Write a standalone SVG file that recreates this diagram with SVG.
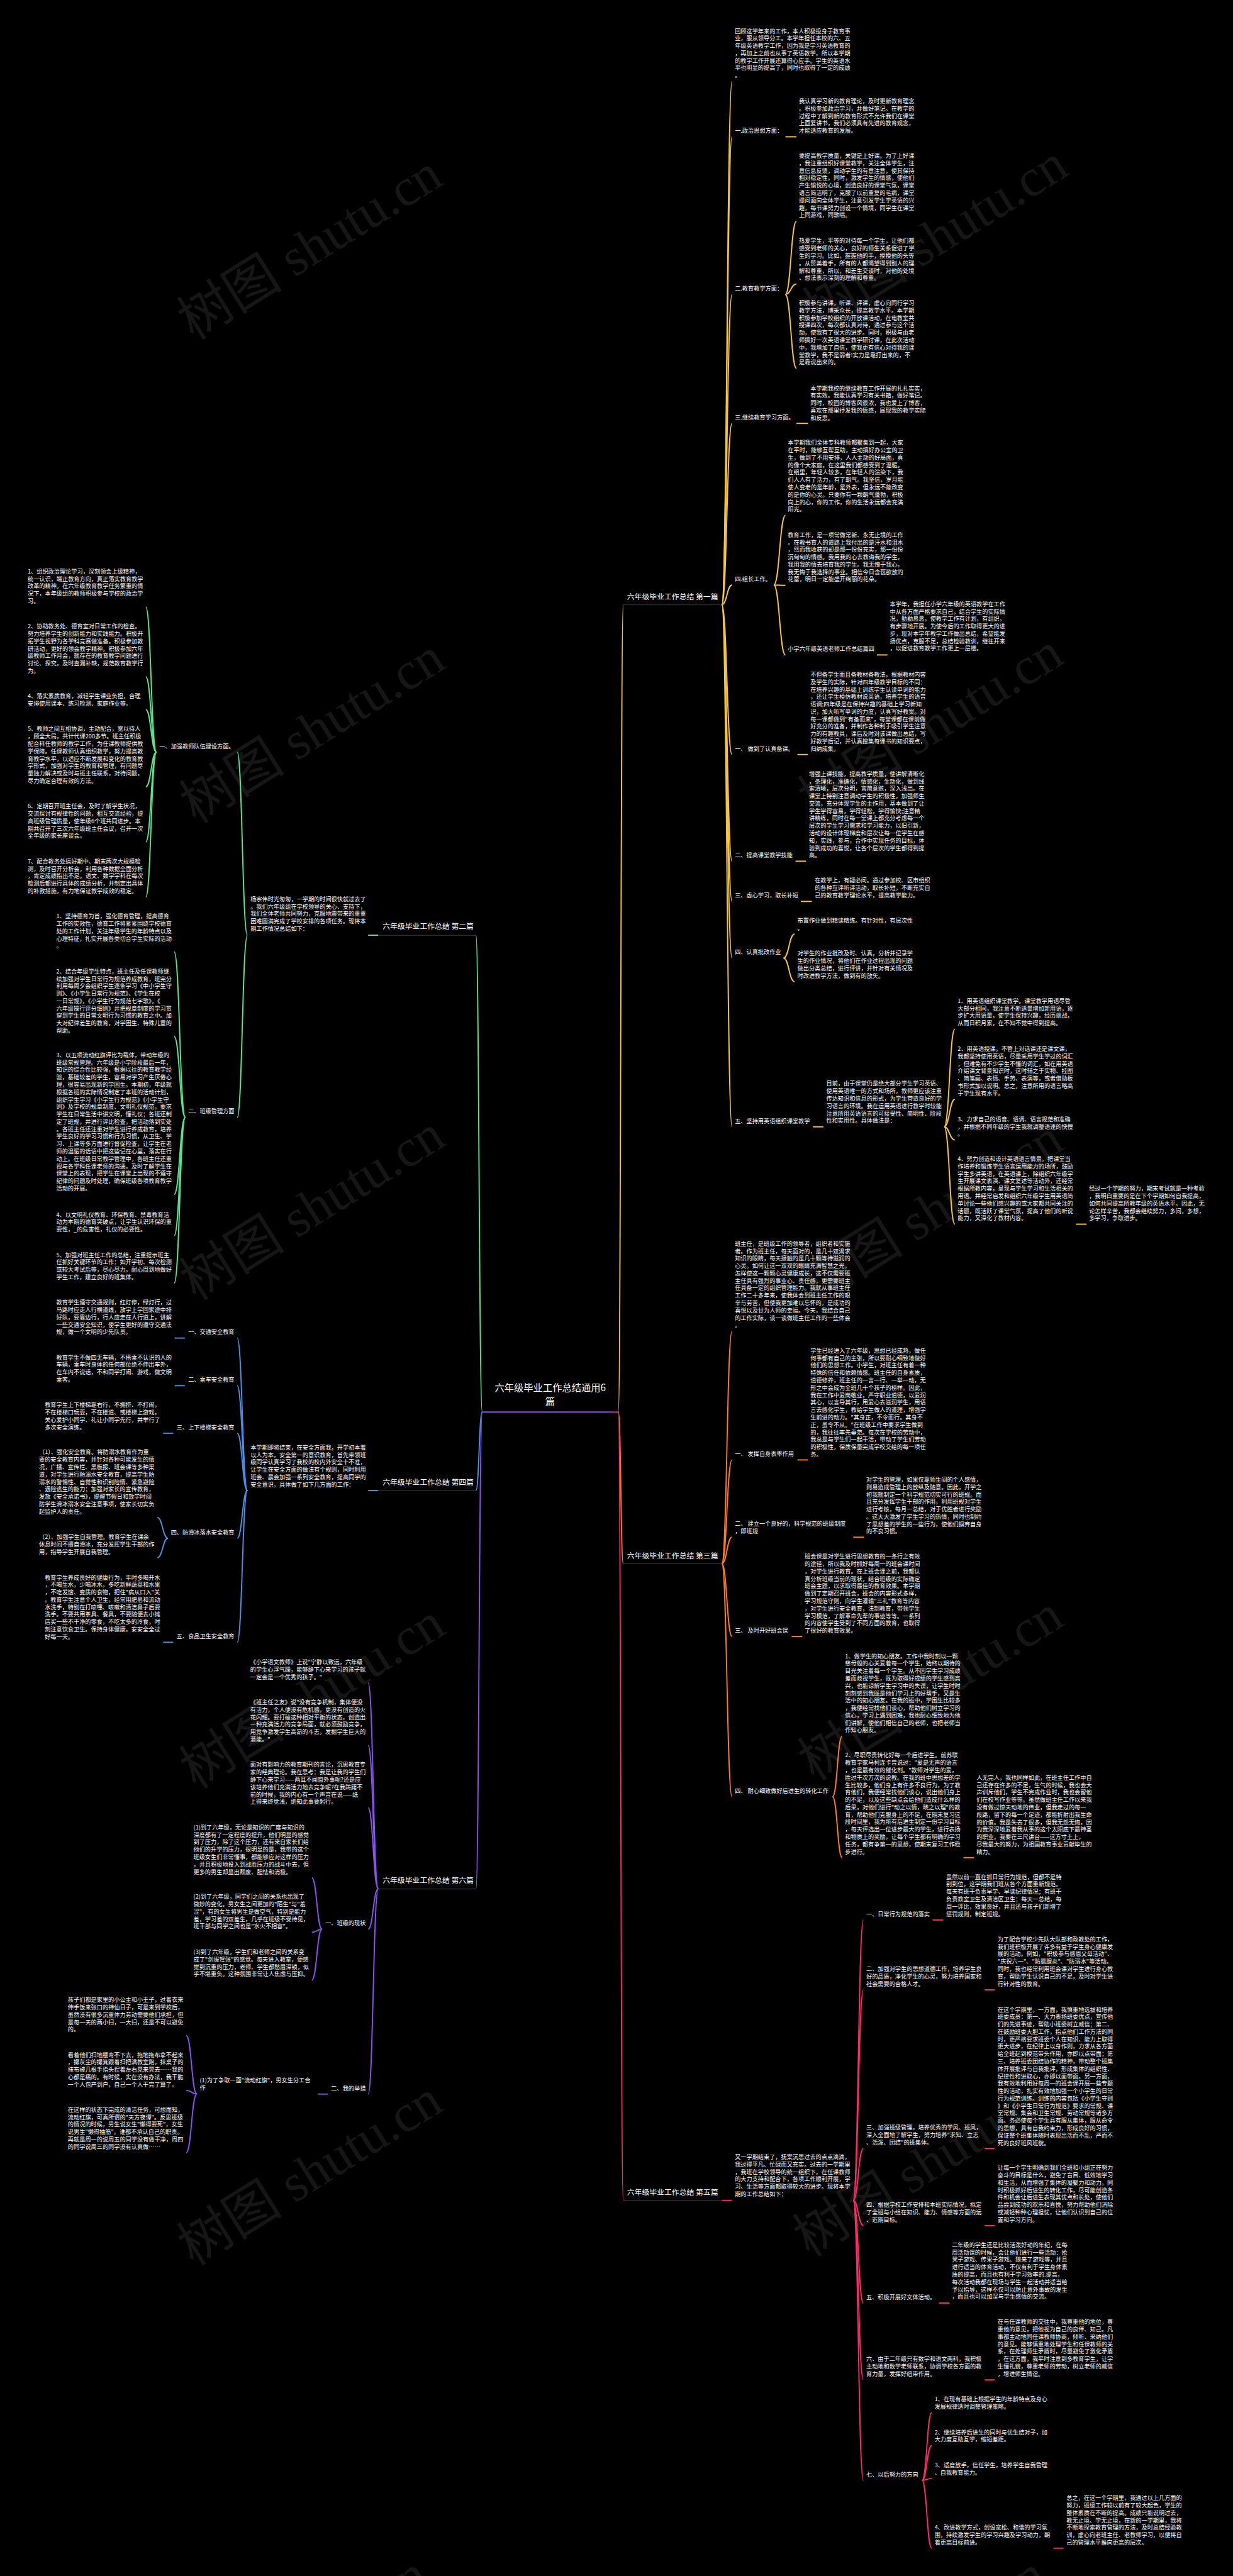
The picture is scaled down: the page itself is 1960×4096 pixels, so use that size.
<svg xmlns="http://www.w3.org/2000/svg" width="1960" height="4096" viewBox="0 0 1960 4096">
<style>
.t{font-family:"Noto Sans CJK SC","Noto Sans",sans-serif;font-size:12px;fill:#fff}
.h{font-size:15.5px}
.c{font-size:20px;text-anchor:middle}
.e{text-anchor:end}
.w{font-family:"Liberation Serif","Noto Sans CJK SC",serif;font-size:110px;fill:#161616;text-anchor:middle}
.k path{fill:none;stroke-width:2.5}
.Y path{stroke:#F5C443}.O path{stroke:#FF7B22}.P path{stroke:#FF2A6D}
.G path{stroke:#5BE48F}.B path{stroke:#4C8FE8}.V path{stroke:#8C52F0}
.u path{fill:none;stroke:#2a2a2a;stroke-width:2}
</style>
<rect width="1960" height="4096" fill="#000"/>
<g transform="scale(0.765)">
<g id="watermark">
<text class="w" x="1945" y="530" transform="rotate(-32 1945 495)">树图 shutu.cn</text>
<text class="w" x="1935" y="1545" transform="rotate(-32 1935 1510)">树图 shutu.cn</text>
<text class="w" x="1935" y="2555" transform="rotate(-32 1935 2520)">树图 shutu.cn</text>
<text class="w" x="1935" y="3545" transform="rotate(-32 1935 3510)">树图 shutu.cn</text>
<text class="w" x="1925" y="4535" transform="rotate(-32 1925 4500)">树图 shutu.cn</text>
<text class="w" x="1900" y="5540" transform="rotate(-32 1900 5505)">树图 shutu.cn</text>
<text class="w" x="645" y="550" transform="rotate(-32 645 515)">树图 shutu.cn</text>
<text class="w" x="650" y="1555" transform="rotate(-32 650 1520)">树图 shutu.cn</text>
<text class="w" x="650" y="2547" transform="rotate(-32 650 2512)">树图 shutu.cn</text>
<text class="w" x="650" y="3562" transform="rotate(-32 650 3527)">树图 shutu.cn</text>
<text class="w" x="645" y="4553" transform="rotate(-32 645 4518)">树图 shutu.cn</text>
<text class="w" x="615" y="5540" transform="rotate(-32 615 5505)">树图 shutu.cn</text>
</g>
<g id="connectors" class="k">
<g class="u">
<path d="M1295 1257H1500M1295 3250H1500M1295 4573.5H1500M786 1944H989M786 3098H989M786 3926H989"/>
</g>
<g class="V"><path d="M1002 2935H1272"/></g>
<g class="P"><path d="M1272 2935H1285"/></g>
<g class="Y">
<path d="M1285 2935C1290 2935 1290 1257 1295 1257"/>
<path d="M1500 1257C1510.5 1257 1510.5 169.2 1521 169.2"/>
<path d="M1500 1257C1510.5 1257 1510.5 284.3 1521 284.3"/>
<path d="M1500 1257C1510.5 1257 1510.5 612 1521 612"/>
<path d="M1500 1257C1510.5 1257 1510.5 880 1521 880"/>
<path d="M1500 1257C1510.5 1257 1510.5 1216 1521 1216"/>
<path d="M1500 1257C1510.5 1257 1510.5 1568.3 1521 1568.3"/>
<path d="M1500 1257C1510.5 1257 1510.5 1790 1521 1790"/>
<path d="M1500 1257C1510.5 1257 1510.5 1873.6 1521 1873.6"/>
<path d="M1500 1257C1510.5 1257 1510.5 1991.3 1521 1991.3"/>
<path d="M1500 1257C1510.5 1257 1510.5 2342.1 1521 2342.1"/>
<path d="M1632 284.3H1655"/>
<path d="M1632 612C1643.5 612 1643.5 459.6 1655 459.6"/>
<path d="M1632 612C1643.5 612 1643.5 590.2 1655 590.2"/>
<path d="M1632 612C1643.5 612 1643.5 765.5 1655 765.5"/>
<path d="M1655 880H1679"/>
<path d="M1608 1216C1620 1216 1620 1071.3 1632 1071.3"/>
<path d="M1608 1216C1620 1216 1620 1216.6 1632 1216.6"/>
<path d="M1608 1216C1620 1216 1620 1361.3 1632 1361.3"/>
<path d="M1822 1361.3H1844"/>
<path d="M1657 1568.3H1679"/>
<path d="M1653 1790H1675"/>
<path d="M1664 1873.6H1687"/>
<path d="M1628 1991.3C1639.5 1991.3 1639.5 1941.5 1651 1941.5"/>
<path d="M1628 1991.3C1639.5 1991.3 1639.5 2040.4 1651 2040.4"/>
<path d="M1689 2342.1H1711"/>
<path d="M1962 2342C1973 2342 1973 2139.2 1984 2139.2"/>
<path d="M1962 2342C1973 2342 1973 2285 1984 2285"/>
<path d="M1962 2342C1973 2342 1973 2369.4 1984 2369.4"/>
<path d="M1962 2342C1973 2342 1973 2544.5 1984 2544.5"/>
<path d="M2236 2544.5H2258"/>
</g>
<g class="O">
<path d="M1285 2935C1290 2935 1290 3250 1295 3250"/>
<path d="M1500 3250C1510.5 3250 1510.5 2766.8 1521 2766.8"/>
<path d="M1500 3250C1510.5 3250 1510.5 3034.5 1521 3034.5"/>
<path d="M1500 3250C1510.5 3250 1510.5 3195.1 1521 3195.1"/>
<path d="M1500 3250C1510.5 3250 1510.5 3401.4 1521 3401.4"/>
<path d="M1500 3250C1510.5 3250 1510.5 3734.6 1521 3734.6"/>
<path d="M1657 3034.5H1679"/>
<path d="M1773 3195.1H1795"/>
<path d="M1645 3401.4H1667"/>
<path d="M1730 3734.6C1740 3734.6 1740 3608.7 1750 3608.7"/>
<path d="M1730 3734.6C1740 3734.6 1740 3861.1 1750 3861.1"/>
<path d="M2002 3861.1H2024"/>
</g>
<g class="P">
<path d="M1285 2935C1290 2935 1290 4573.5 1295 4573.5"/>
<path d="M1500 4573.5H1521"/>
<path d="M1773 4573.5C1783.5 4573.5 1783.5 3990.7 1794 3990.7"/>
<path d="M1773 4573.5C1783.5 4573.5 1783.5 4135.8 1794 4135.8"/>
<path d="M1773 4573.5C1783.5 4573.5 1783.5 4465.5 1794 4465.5"/>
<path d="M1773 4573.5C1783.5 4573.5 1783.5 4625.9 1794 4625.9"/>
<path d="M1773 4573.5C1783.5 4573.5 1783.5 4786.9 1794 4786.9"/>
<path d="M1773 4573.5C1783.5 4573.5 1783.5 4946.6 1794 4946.6"/>
<path d="M1773 4573.5C1783.5 4573.5 1783.5 5155.5 1794 5155.5"/>
<path d="M1938 3990.7H1960"/>
<path d="M2046 4135.8H2067"/>
<path d="M2046 4465.5H2067"/>
<path d="M2046 4625.9H2067"/>
<path d="M1951 4786.9H1973"/>
<path d="M2046 4946.6H2067"/>
<path d="M1916 5155.5C1926 5155.5 1926 5014.7 1936 5014.7"/>
<path d="M1916 5155.5C1926 5155.5 1926 5083.1 1936 5083.1"/>
<path d="M1916 5155.5C1926 5155.5 1926 5151.5 1936 5151.5"/>
<path d="M1916 5155.5C1926 5155.5 1926 5296.4 1936 5296.4"/>
<path d="M2189 5296.4H2210"/>
</g>
<g class="G">
<path d="M1002 2935C995.5 2935 995.5 1944 989 1944"/>
<path d="M786 1944H765"/>
<path d="M514 1944C503.5 1944 503.5 1563.3 493 1563.3"/>
<path d="M514 1944C503.5 1944 503.5 2322.4 493 2322.4"/>
<path d="M325 1563.3C314 1563.3 314 1261.6 303 1261.6"/>
<path d="M325 1563.3C314 1563.3 314 1406.7 303 1406.7"/>
<path d="M325 1563.3C314 1563.3 314 1474.9 303 1474.9"/>
<path d="M325 1563.3C314 1563.3 314 1635.4 303 1635.4"/>
<path d="M325 1563.3C314 1563.3 314 1749.8 303 1749.8"/>
<path d="M325 1563.3C314 1563.3 314 1864.2 303 1864.2"/>
<path d="M385 2322.4C373.5 2322.4 373.5 1978.5 362 1978.5"/>
<path d="M385 2322.4C373.5 2322.4 373.5 2154.5 362 2154.5"/>
<path d="M385 2322.4C373.5 2322.4 373.5 2482.5 362 2482.5"/>
<path d="M385 2322.4C373.5 2322.4 373.5 2567.9 362 2567.9"/>
<path d="M385 2322.4C373.5 2322.4 373.5 2666.8 362 2666.8"/>
</g>
<g class="B">
<path d="M1002 2935C995.5 2935 995.5 3098 989 3098"/>
<path d="M786 3098H765"/>
<path d="M514 3098C503.5 3098 503.5 2781.2 493 2781.2"/>
<path d="M514 3098C503.5 3098 503.5 2880.1 493 2880.1"/>
<path d="M514 3098C503.5 3098 503.5 2979 493 2979"/>
<path d="M514 3098C503.5 3098 503.5 3197.2 493 3197.2"/>
<path d="M514 3098C503.5 3098 503.5 3413.5 493 3413.5"/>
<path d="M384 2781.2H363"/>
<path d="M384 2880.1H363"/>
<path d="M360 2979H339"/>
<path d="M349 3197.2C338 3197.2 338 3154.1 327 3154.1"/>
<path d="M349 3197.2C338 3197.2 338 3237.8 327 3237.8"/>
<path d="M360 3413.5H339"/>
</g>
<g class="V">
<path d="M1002 2935C995.5 2935 995.5 3926 989 3926"/>
<path d="M786 3926C775.5 3926 775.5 3497.8 765 3497.8"/>
<path d="M786 3926C775.5 3926 775.5 3627.7 765 3627.7"/>
<path d="M786 3926C775.5 3926 775.5 3757.6 765 3757.6"/>
<path d="M786 3926C775.5 3926 775.5 4009.9 765 4009.9"/>
<path d="M786 3926C775.5 3926 775.5 4352.6 765 4352.6"/>
<path d="M669 4009.9C658.5 4009.9 658.5 3903 648 3903"/>
<path d="M669 4009.9C658.5 4009.9 658.5 4016.4 648 4016.4"/>
<path d="M669 4009.9C658.5 4009.9 658.5 4115.8 648 4115.8"/>
<path d="M681 4352.6H660"/>
<path d="M409 4352.1C398 4352.1 398 4230.9 387 4230.9"/>
<path d="M409 4352.1C398 4352.1 398 4344.9 387 4344.9"/>
<path d="M409 4352.1C398 4352.1 398 4474.3 387 4474.3"/>
</g>
</g>
<g id="root"><text class="t c" x="1143.5" y="2891.7">六年级毕业工作总结通用6</text><text class="t c" x="1143" y="2919.7">篇</text></g>
<g id="p1"><text class="t h" x="1303" y="1245.5">六年级毕业工作总结 第一篇</text></g>
<g id="p3"><text class="t h" x="1303" y="3238.8">六年级毕业工作总结 第三篇</text></g>
<g id="p5"><text class="t h" x="1303" y="4562.2">六年级毕业工作总结 第五篇</text></g>
<g id="p2"><text class="t h" x="795" y="1931.2">六年级毕业工作总结 第二篇</text></g>
<g id="p4"><text class="t h" x="795" y="3086.5">六年级毕业工作总结 第四篇</text></g>
<g id="p6"><text class="t h" x="795" y="3913.8">六年级毕业工作总结 第六篇</text></g>
<g id="r0"><text class="t" transform="translate(1527 68.7)">回顾这学年来的工作，本人积极投身于教育事<tspan x="0" dy="15.4">业，服从领导分工。本学年担任本校的六、五</tspan><tspan x="0" dy="15.4">年级英语教学工作，因为我是学习英语教育的</tspan><tspan x="0" dy="15.4">，再加上之前也从事了英语教学，所以本学期</tspan><tspan x="0" dy="15.4">的教学工作开展还算得心应手。学生的英语水</tspan><tspan x="0" dy="15.4">平也明显的提高了，同时也取得了一定的成绩</tspan><tspan x="0" dy="15.4">。</tspan></text></g>
<g id="r1"><text class="t" x="1527" y="276.2">一.政治思想方面：</text></g>
<g id="r1c"><text class="t" transform="translate(1660 214.5)">我认真学习新的教育理论，及时更新教育理念<tspan x="0" dy="15.4">。积极参加政治学习，并做好笔记。在教学的</tspan><tspan x="0" dy="15.4">过程中了解到新的教育形式不允许我们在课堂</tspan><tspan x="0" dy="15.4">上面复讲书，我们必须具有先进的教育观念，</tspan><tspan x="0" dy="15.4">才能适应教育的发展。</tspan></text></g>
<g id="r2"><text class="t" x="1527" y="604">二.教育教学方面：</text></g>
<g id="r2c1"><text class="t" transform="translate(1660 328.3)">要提高教学质量，关键是上好课。为了上好课<tspan x="0" dy="15.4">，我注重组织好课堂教学，关注全体学生，注</tspan><tspan x="0" dy="15.4">意信息反馈，调动学生的有意注意，使其保持</tspan><tspan x="0" dy="15.4">相对稳定性。同时，激发学生的情感，使他们</tspan><tspan x="0" dy="15.4">产生愉悦的心境，创造良好的课堂气氛，课堂</tspan><tspan x="0" dy="15.4">语言简洁明了，克服了以前重复的毛病，课堂</tspan><tspan x="0" dy="15.4">提问面向全体学生，注意引发学生学英语的兴</tspan><tspan x="0" dy="15.4">趣，每节课努力创设一个情境，同学生在课堂</tspan><tspan x="0" dy="15.4">上同游戏，同歌唱。</tspan></text></g>
<g id="r2c2"><text class="t" transform="translate(1660 505.1)">热爱学生，平等的对待每一个学生，让他们都<tspan x="0" dy="15.4">感受到老师的关心，良好的师生关系促进了学</tspan><tspan x="0" dy="15.4">生的学习。比如，握握他的手，摸摸他的头等</tspan><tspan x="0" dy="15.4">。从赞美着手，所有的人都渴望得到别人的理</tspan><tspan x="0" dy="15.4">解和尊重，所以，和差生交谈时，对他的处境</tspan><tspan x="0" dy="15.4">、想法表示深刻的理解和尊重。</tspan></text></g>
<g id="r2c3"><text class="t" transform="translate(1660 634.1)">积极参与讲课，听课、评课，虚心向同行学习<tspan x="0" dy="15.4">教学方法，博采众长，提高教学水平。本学期</tspan><tspan x="0" dy="15.4">积极参加学校组织的开放课活动，在电教室共</tspan><tspan x="0" dy="15.4">授课四次，每次都认真对待，通过参与这个活</tspan><tspan x="0" dy="15.4">动，使我有了很大的进步。同时，积极与由老</tspan><tspan x="0" dy="15.4">师搞好一次英语课堂教学研讨课，在此次活动</tspan><tspan x="0" dy="15.4">中，我增加了自信，使我更有信心对待我的课</tspan><tspan x="0" dy="15.4">堂教学，我不是弱者!实力是靠打出来的，不</tspan><tspan x="0" dy="15.4">是靠说出来的。</tspan></text></g>
<g id="r3"><text class="t" x="1527" y="872">三.继续教育学习方面。</text></g>
<g id="r3c"><text class="t" transform="translate(1684 811.2)">本学期我校的继续教育工作开展的扎扎实实，<tspan x="0" dy="15.4">有实效。我能认真学习有关书籍，做好笔记。</tspan><tspan x="0" dy="15.4">同时，校园的博客风很浓，我也爱上了博客，</tspan><tspan x="0" dy="15.4">喜欢在那里抒发我的情感，展现我的教学实际</tspan><tspan x="0" dy="15.4">和反思。</tspan></text></g>
<g id="r4"><text class="t" x="1527" y="1208">四.组长工作。</text></g>
<g id="r4c1"><text class="t" transform="translate(1637 924.6)">本学期我们全体专科教师都聚集到一起，大家<tspan x="0" dy="15.4">在平时，能够互帮互助，主动搞好办公室的卫</tspan><tspan x="0" dy="15.4">生，做到了不用安排，人人主动的好局面，真</tspan><tspan x="0" dy="15.4">的像个大家庭，在这里我们都感受到了温暖。</tspan><tspan x="0" dy="15.4">在组里，年轻人较多，在年轻人的渲染下，我</tspan><tspan x="0" dy="15.4">们人人有了活力，有了朝气。我坚信，岁月能</tspan><tspan x="0" dy="15.4">使人变老的是年龄，是外表，但永远不能改变</tspan><tspan x="0" dy="15.4">的是你的心灵。只要你有一颗朝气蓬勃，积极</tspan><tspan x="0" dy="15.4">向上的心，你的工作，你的生活永远都会充满</tspan><tspan x="0" dy="15.4">阳光。</tspan></text></g>
<g id="r4c2"><text class="t" transform="translate(1637 1116.1)">教育工作，是一项常做常新、永无止境的工作<tspan x="0" dy="15.4">。在教书育人的道路上我付出的是汗水和泪水</tspan><tspan x="0" dy="15.4">，然而我收获的却是那一份份充实，那一份份</tspan><tspan x="0" dy="15.4">沉甸甸的情感。我用我的心去教诲我的学生，</tspan><tspan x="0" dy="15.4">我用我的情去培育我的学生。我无愧于我心，</tspan><tspan x="0" dy="15.4">我无悔于我选择的事业。相信今日含苞欲放的</tspan><tspan x="0" dy="15.4">花蕾，明日一定能盛开绚丽的花朵。</tspan></text></g>
<g id="r4c3"><text class="t" x="1637" y="1353.2">小学六年级英语老师工作总结篇四</text></g>
<g id="r4c3c"><text class="t" transform="translate(1849 1259.9)">本学年，我担任小学六年级的英语教学在工作<tspan x="0" dy="15.4">中从各方面严格要求自己，结合学生的实际情</tspan><tspan x="0" dy="15.4">况，勤勤恳恳，使教学工作有计划，有组织，</tspan><tspan x="0" dy="15.4">有步骤地开展。为使今后的工作取得更大的进</tspan><tspan x="0" dy="15.4">步，现对本学年教学工作做出总结，希望能发</tspan><tspan x="0" dy="15.4">扬优点，克服不足，总结检验教训，继往开来</tspan><tspan x="0" dy="15.4">，以促进教育教学工作更上一层楼。</tspan></text></g>
<g id="r5"><text class="t" x="1527" y="1560.2">一、 做到了认真备课。</text></g>
<g id="r5c"><text class="t" transform="translate(1684 1406.5)">不但备学生而且备教材备教法，根据教材内容<tspan x="0" dy="15.4">及学生的实际，针对四年级教学目标的不同：</tspan><tspan x="0" dy="15.4">在培养兴趣的基础上训练学生认读单词的能力</tspan><tspan x="0" dy="15.4">，还让学生模仿教材说英语，培养学生的语音</tspan><tspan x="0" dy="15.4">语调;四年级是在保持兴趣的基础上学习新知</tspan><tspan x="0" dy="15.4">识，加大听写单词的力度，认真写好教案。对</tspan><tspan x="0" dy="15.4">每一课都做到"有备而来"，每堂课都在课前做</tspan><tspan x="0" dy="15.4">好充分的准备，并制作各种利于吸引学生注意</tspan><tspan x="0" dy="15.4">力的有趣教具，课后及时对该课做出总结，写</tspan><tspan x="0" dy="15.4">好教学后记，并认真搜集每课书的知识要点，</tspan><tspan x="0" dy="15.4">归纳成集。</tspan></text></g>
<g id="r6"><text class="t" x="1527" y="1781.9">二、提高课堂教学技能</text></g>
<g id="r6c"><text class="t" transform="translate(1681 1612.8)">增强上课技能，提高教学质量，使讲解清晰化<tspan x="0" dy="15.4">，条理化，准确化，情感化，生动化，做到线</tspan><tspan x="0" dy="15.4">索清晰，层次分明，言简意赅，深入浅出。在</tspan><tspan x="0" dy="15.4">课堂上特别注意调动学生的积极性，加强师生</tspan><tspan x="0" dy="15.4">交流，充分体现学生的主作用，基本做到了让</tspan><tspan x="0" dy="15.4">学生学得容易，学得轻松，学得愉快;注意精</tspan><tspan x="0" dy="15.4">讲精练，同时在每一堂课上都充分考虑每一个</tspan><tspan x="0" dy="15.4">层次的学生学习需求和学习能力，以旧引新，</tspan><tspan x="0" dy="15.4">活动的设计体现梯度和层次让每一位学生在感</tspan><tspan x="0" dy="15.4">知，实践，参与，合作中实现任务的目标，体</tspan><tspan x="0" dy="15.4">验到成功的喜悦，让各个层次的学生都得到提</tspan><tspan x="0" dy="15.4">高。</tspan></text></g>
<g id="r7"><text class="t" x="1527" y="1865.5">三、虚心学习，取长补短</text></g>
<g id="r7c"><text class="t" transform="translate(1693 1834.5)">在教学上，有疑必问。通过参加校、区市组织<tspan x="0" dy="15.4">的各种互评听评活动，取长补短，不断充实自</tspan><tspan x="0" dy="15.4">己的教育教学理论水平，提高教学能力。</tspan></text></g>
<g id="r8"><text class="t" x="1527" y="1983.2">四、认真批改作业</text></g>
<g id="r8c1"><text class="t" transform="translate(1657 1918)">布置作业做到精读精练。有针对性，有层次性<tspan x="0" dy="15.4">。</tspan></text></g>
<g id="r8c2"><text class="t" transform="translate(1657 1986.1)">对学生的作业批改及时、认真，分析并记录学<tspan x="0" dy="15.4">生的作业情况，将他们在作业过程出现的问题</tspan><tspan x="0" dy="15.4">做出分类总结，进行评讲，并针对有关情况及</tspan><tspan x="0" dy="15.4">时改进教学方法，做到有的放矢。</tspan></text></g>
<g id="r9"><text class="t" x="1527" y="2334">五、坚持用英语组织课堂教学</text></g>
<g id="r9c"><text class="t" transform="translate(1717 2256.8)">目前，由于课堂仍是绝大部分学生学习英语、<tspan x="0" dy="15.4">使用英语唯一的方式和场所，教师更应该注重</tspan><tspan x="0" dy="15.4">传达知识和信息的形式，为学生营造良好的学</tspan><tspan x="0" dy="15.4">习语言的环境。我在运用英语进行教学时较能</tspan><tspan x="0" dy="15.4">注意所用英语语言的可接受性、简明性、阶段</tspan><tspan x="0" dy="15.4">性和实用性。具体做法是：</tspan></text></g>
<g id="r9c1"><text class="t" transform="translate(1990 2084.9)">1、用英语组织课堂教学。课堂教学用语尽管<tspan x="0" dy="15.4">大部分相同，我注意不断适量增加新用语，逐</tspan><tspan x="0" dy="15.4">步扩大用语量，使学生保持兴趣，经历挑战，</tspan><tspan x="0" dy="15.4">从而日积月累，在不知不觉中得到提高。</tspan></text></g>
<g id="r9c2"><text class="t" transform="translate(1990 2184.5)">2、用英语授课。不管上对话课还是课文课，<tspan x="0" dy="15.4">我都坚持使用英语，尽量采用学生学过的词汇</tspan><tspan x="0" dy="15.4">，但难免有不少学生不懂的词汇，如在用英语</tspan><tspan x="0" dy="15.4">介绍课文背景知识时，这时辅之于实物、挂图</tspan><tspan x="0" dy="15.4">、简笔画、表情、手势、表演等，或者借助板</tspan><tspan x="0" dy="15.4">书形式加以说明。总之，注意所用的语言略高</tspan><tspan x="0" dy="15.4">于学生现有水平。</tspan></text></g>
<g id="r9c3"><text class="t" transform="translate(1990 2330.5)">3、力求自己的语音、语调、语言规范和准确<tspan x="0" dy="15.4">，并根据不同年级的学生我就调整语速的快慢</tspan><tspan x="0" dy="15.4">。</tspan></text></g>
<g id="r9c4"><text class="t" transform="translate(1990 2413.2)">4、努力创造和设计英语语言情景。把课堂当<tspan x="0" dy="15.4">作培养和锻炼学生语言运用能力的场所，鼓励</tspan><tspan x="0" dy="15.4">学生多讲英语，在英语课上，除组织六年级学</tspan><tspan x="0" dy="15.4">生开展课文表演、课文复述等活动外，还经常</tspan><tspan x="0" dy="15.4">根据所教内容，呈现与学生学习和生活相关的</tspan><tspan x="0" dy="15.4">用语。并经常启发和组织六年级学生用英语简</tspan><tspan x="0" dy="15.4">单讨论一些他们感兴趣的或大家都共同关注的</tspan><tspan x="0" dy="15.4">话题，既活跃了课堂气氛，提高了他们的听说</tspan><tspan x="0" dy="15.4">能力，又深化了教材内容。</tspan></text></g>
<g id="r9c4c"><text class="t" transform="translate(2263 2475)">经过一个学期的努力，期末考试就是一种考验<tspan x="0" dy="15.4">，我明白重要的是在下个学期如何自我提高，</tspan><tspan x="0" dy="15.4">如何共同提高所教年级的英语水平。因此，无</tspan><tspan x="0" dy="15.4">论怎样辛苦，我都会继续努力，多问，多想，</tspan><tspan x="0" dy="15.4">多学习，争取进步。</tspan></text></g>
<g id="t0"><text class="t" transform="translate(1527 2589.3)">班主任，是班级工作的领导者，组织者和实施<tspan x="0" dy="15.4">者。作为班主任，每天面对的，是几十双渴求</tspan><tspan x="0" dy="15.4">知识的眼睛，每天接触的是几十颗等待滋润的</tspan><tspan x="0" dy="15.4">心灵。如何让这一双双的眼睛充满智慧之光，</tspan><tspan x="0" dy="15.4">怎样使这一颗颗心灵健康成长，这不仅需要班</tspan><tspan x="0" dy="15.4">主任具有强烈的事业心、责任感，更需要班主</tspan><tspan x="0" dy="15.4">任具备一定的组织管理能力。我就从事班主任</tspan><tspan x="0" dy="15.4">工作二十多年来，使我体会到班主任工作的艰</tspan><tspan x="0" dy="15.4">辛与劳苦，但使我更加难以忘怀的，是成功的</tspan><tspan x="0" dy="15.4">喜悦以及甘为人师的幸福。今天，我结合自己</tspan><tspan x="0" dy="15.4">的工作实际，谈一谈做班主任工作的一些体会</tspan><tspan x="0" dy="15.4">。</tspan></text></g>
<g id="t1"><text class="t" x="1527" y="3026.4">一、 发挥自身表率作用</text></g>
<g id="t1c"><text class="t" transform="translate(1684 2811.7)">学生已经进入了六年级，思想已经成熟，做任<tspan x="0" dy="15.4">何事都有自己的主张，所以要耐心细致地做好</tspan><tspan x="0" dy="15.4">他们的思想工作。小学生，对班主任有着一种</tspan><tspan x="0" dy="15.4">特殊的信任和依赖情感。班主任的自身素质，</tspan><tspan x="0" dy="15.4">道德修养，班主任的一言一行、一举一动，无</tspan><tspan x="0" dy="15.4">形之中会成为全班几十个孩子的榜样。因此，</tspan><tspan x="0" dy="15.4">我在工作中爱岗敬业，严守职业道德，以爱润</tspan><tspan x="0" dy="15.4">其心，以言导其行，用爱心去滋润学生，用语</tspan><tspan x="0" dy="15.4">言去感化学生，教给学生做人的道理，增强学</tspan><tspan x="0" dy="15.4">生前进的动力。"其身正，不令而行。其身不</tspan><tspan x="0" dy="15.4">正，虽令不从。"在班级工作中要求学生做到</tspan><tspan x="0" dy="15.4">的，我往往率先垂范。每次在学校的劳动中，</tspan><tspan x="0" dy="15.4">我总是与学生们一起干活，带动了学生们劳动</tspan><tspan x="0" dy="15.4">的积极性，保质保量完成学校交给的每一项任</tspan><tspan x="0" dy="15.4">务。</tspan></text></g>
<g id="t2"><text class="t" transform="translate(1527 3171.6)">二、 建立一个良好的，科学规范的班级制度<tspan x="0" dy="15.4">，即班规</tspan></text></g>
<g id="t2c"><text class="t" transform="translate(1800 3079.7)">对学生的管理，如果仅靠师生间的个人感情，<tspan x="0" dy="15.4">则易造成管理上的放纵及随意。因此，开学之</tspan><tspan x="0" dy="15.4">初我就制定一个科学规范切实可行的班规。而</tspan><tspan x="0" dy="15.4">且充分发挥学生干部的作用，利用班规对学生</tspan><tspan x="0" dy="15.4">进行考核，每月一总结，对于优胜者进行奖励</tspan><tspan x="0" dy="15.4">。这大大激发了学生学习的热情，同时也制约</tspan><tspan x="0" dy="15.4">了思想差的学生的一些行为，使他们摒弃自身</tspan><tspan x="0" dy="15.4">的不良习惯。</tspan></text></g>
<g id="t3"><text class="t" x="1527" y="3393.3">三、 及时开好班会课</text></g>
<g id="t3c"><text class="t" transform="translate(1672 3239.6)">班会课是对学生进行思想教育的一条行之有效<tspan x="0" dy="15.4">的途径，所以我及时抓好每周一的班会课时间</tspan><tspan x="0" dy="15.4">，对学生进行教育。在上班会课之前，我都认</tspan><tspan x="0" dy="15.4">真分析班级当前的现状，结合班级的实际确定</tspan><tspan x="0" dy="15.4">班会主题，以求取得最佳的教育效果。本学期</tspan><tspan x="0" dy="15.4">做到了定期召开班会，班会的内容形式多样，</tspan><tspan x="0" dy="15.4">学习规范守则，向学生灌输"三礼"教育等内容</tspan><tspan x="0" dy="15.4">，对学生进行安全教育，法制教育，带领学生</tspan><tspan x="0" dy="15.4">学习模范，了解革命先辈的事迹等等。一系列</tspan><tspan x="0" dy="15.4">的内容使学生受到了不同方面的教育，也取得</tspan><tspan x="0" dy="15.4">了很好的教育效果。</tspan></text></g>
<g id="t4"><text class="t" x="1527" y="3726.5">四、 耐心细致做好后进生的转化工作</text></g>
<g id="t4c1"><text class="t" transform="translate(1756 3446.6)">1、做学生的知心朋友。工作中我时刻以一颗<tspan x="0" dy="15.4">慈母般的心关爱着每一个学生，始终以期待的</tspan><tspan x="0" dy="15.4">目光关注着每一个学生。从不因学生学习成绩</tspan><tspan x="0" dy="15.4">差而歧视学生，既为取得好成绩的学生感到高</tspan><tspan x="0" dy="15.4">兴，也能谅解学生学习中的失误，让学生时时</tspan><tspan x="0" dy="15.4">刻刻感到我既是他们学习上的好帮手，又是生</tspan><tspan x="0" dy="15.4">活中的知心朋友。在我的班中，学困生比较多</tspan><tspan x="0" dy="15.4">，我便经常找他们谈心，帮助他们树立学习的</tspan><tspan x="0" dy="15.4">信心，学习上遇到困难，我也耐心细致地为他</tspan><tspan x="0" dy="15.4">们讲解，使他们相信自己的老师，也把老师当</tspan><tspan x="0" dy="15.4">作知心朋友。</tspan></text></g>
<g id="t4c2"><text class="t" transform="translate(1756 3652.8)">2、尽职尽责转化好每一个后进学生。前苏联<tspan x="0" dy="15.4">教育学家马柯连卡曾说过："爱是无声的语言</tspan><tspan x="0" dy="15.4">，也是最有效的催化剂。"教师对学生的爱，</tspan><tspan x="0" dy="15.4">胜过千次万次的说教。在我的班中思想差的学</tspan><tspan x="0" dy="15.4">生比较多，他们身上有许多不良行为，为了教</tspan><tspan x="0" dy="15.4">育他们，我便经常找他们谈心，说出他们身上</tspan><tspan x="0" dy="15.4">的不足，以及这些缺点会给他们造成什么样的</tspan><tspan x="0" dy="15.4">后果，对他们进行"动之以情，晓之以理"的教</tspan><tspan x="0" dy="15.4">育，帮助他们克服身上的不足，在期末复习这</tspan><tspan x="0" dy="15.4">段时间里，我为所有后进生制定一份学习目标</tspan><tspan x="0" dy="15.4">，每天评选出一位进步最大的学生，进行表扬</tspan><tspan x="0" dy="15.4">和物质上的奖励，让每个学生都有明确的学习</tspan><tspan x="0" dy="15.4">任务，都有争第一的思想，使期末复习工作稳</tspan><tspan x="0" dy="15.4">步进行。</tspan></text></g>
<g id="t4c2c"><text class="t" transform="translate(2029 3699.2)">人无完人，我也同样如此，在班主任工作中自<tspan x="0" dy="15.4">己还存在许多的不足，生气的时候，我也会大</tspan><tspan x="0" dy="15.4">声训斥他们，学生不完成作业时，我也会留他</tspan><tspan x="0" dy="15.4">们在校写作业等等。虽然做班主任工作以来我</tspan><tspan x="0" dy="15.4">没有做过惊天动地的伟业，但我走过的每一</tspan><tspan x="0" dy="15.4">段路，留下的每一个足迹，都能折射出我生命</tspan><tspan x="0" dy="15.4">的价值。我是失去了很多，但我无怨无悔，因</tspan><tspan x="0" dy="15.4">为我深深地爱着我从事的这个太阳底下最神圣</tspan><tspan x="0" dy="15.4">的职业。我要在三尺讲台——这方寸土上，</tspan><tspan x="0" dy="15.4">尽我最大的努力，为祖国教育事业贡献毕生的</tspan><tspan x="0" dy="15.4">精力。</tspan></text></g>
<g id="f0"><text class="t" transform="translate(1527 4487.7)">又一学期结束了，抚案沉思过去的点点滴滴，<tspan x="0" dy="15.4">我过得平凡、忙碌而又充实。过去的一学期里</tspan><tspan x="0" dy="15.4">，我班在学校领导的统一组织下，在任课教师</tspan><tspan x="0" dy="15.4">的大力支持和配合下，各项工作顺利开展，学</tspan><tspan x="0" dy="15.4">习、生活等方面都取得较大的进步。现将本学</tspan><tspan x="0" dy="15.4">期的工作总结如下：</tspan></text></g>
<g id="f1"><text class="t" x="1800" y="3982.6">一、日常行为规范的落实</text></g>
<g id="f1c"><text class="t" transform="translate(1966 3905.4)">虽然以前一直在抓日常行为规范，但都不是特<tspan x="0" dy="15.4">别到位，这学期我们班从各个方面重新规范。</tspan><tspan x="0" dy="15.4">每天有班干负责早学、早读纪律情况；有班干</tspan><tspan x="0" dy="15.4">负责教室卫生及清洁区卫生；每天一总结，每</tspan><tspan x="0" dy="15.4">周一评比，效果良好，并且还与孩子们新增了</tspan><tspan x="0" dy="15.4">惩罚规则，制定班规。</tspan></text></g>
<g id="f2"><text class="t" transform="translate(1800 4096.9)">二、加强对学生的思想道德工作，培养学生良<tspan x="0" dy="15.4">好的品质，净化学生的心灵，努力培养国家和</tspan><tspan x="0" dy="15.4">社会需要的合格人才。</tspan></text></g>
<g id="f2c"><text class="t" transform="translate(2073 4035.2)">为了配合学校少先队大队部和政教处的工作，<tspan x="0" dy="15.4">我们班积极开展了许多有益于学生身心健康发</tspan><tspan x="0" dy="15.4">展的活动。例如，"积极参与感恩父母活动"、</tspan><tspan x="0" dy="15.4">"庆祝六一"、"防腮腺炎"、"防溺水"等活动。</tspan><tspan x="0" dy="15.4">同时，我也经常利用班会课对学生进行身心教</tspan><tspan x="0" dy="15.4">育，帮助学生认识自己的不足，及时对学生进</tspan><tspan x="0" dy="15.4">行针对性的教育。</tspan></text></g>
<g id="f3"><text class="t" transform="translate(1800 4426.6)">三、加强班级管理，培养优秀的学风、班风，<tspan x="0" dy="15.4">深入全面地了解学生，努力培养"求知、立志</tspan><tspan x="0" dy="15.4">、活泼、团结"的班集体。</tspan></text></g>
<g id="f3c"><text class="t" transform="translate(2073 4181.1)">在这个学期里，一方面，我慎重地选拔和培养<tspan x="0" dy="15.4">班委成员：第一、大力表扬班委优点，宣传他</tspan><tspan x="0" dy="15.4">们的先进事迹，帮助小班委树立威信；第二、</tspan><tspan x="0" dy="15.4">在鼓励班委大胆工作，指点他们工作方法的同</tspan><tspan x="0" dy="15.4">时，更严格要求班委个人在知识、能力上取得</tspan><tspan x="0" dy="15.4">更大进步，在纪律上以身作则，力求从各方面</tspan><tspan x="0" dy="15.4">给全班起到模范带头作用，亦即以点带面；第</tspan><tspan x="0" dy="15.4">三、培养班委团结协作的精神，带动整个班集</tspan><tspan x="0" dy="15.4">体开展批评与自我批评，形成集体的组织性、</tspan><tspan x="0" dy="15.4">纪律性和进取心，亦即以面带面。另一方面，</tspan><tspan x="0" dy="15.4">我有效地利用好每周一的班会课开展一些专题</tspan><tspan x="0" dy="15.4">性的活动，扎实有效地加强一个小学生的日常</tspan><tspan x="0" dy="15.4">行为规范训练。训练的内容包括《小学生守则</tspan><tspan x="0" dy="15.4">》和《小学生日常行为规范》要求的常规、课</tspan><tspan x="0" dy="15.4">堂常规、集会和卫生常规、劳动常规等诸多方</tspan><tspan x="0" dy="15.4">面。务必使每个学生具有服从集体，服从命令</tspan><tspan x="0" dy="15.4">的思想，具有自我约束力，形成良好的习惯，</tspan><tspan x="0" dy="15.4">保证整个班集体随时表现出活而不乱，严而不</tspan><tspan x="0" dy="15.4">死的良好班风班貌。</tspan></text></g>
<g id="f4"><text class="t" transform="translate(1800 4587)">四、根据学校工作安排和本班实际情况，拟定<tspan x="0" dy="15.4">了全班与小组在知识、能力、情感等方面的远</tspan><tspan x="0" dy="15.4">、近期目标。</tspan></text></g>
<g id="f4c"><text class="t" transform="translate(2073 4510.1)">让每一个学生明确到我们全班和小组正在努力<tspan x="0" dy="15.4">奋斗的目标是什么，避免了盲目、低效地学习</tspan><tspan x="0" dy="15.4">和生活，从而增强了集体的凝聚力和动力。同</tspan><tspan x="0" dy="15.4">时积极抓好后进生的转化工作，尽可能创造条</tspan><tspan x="0" dy="15.4">件和机会让后进生表现其优点和长处，使他们</tspan><tspan x="0" dy="15.4">品尝到成功的欢乐和喜悦，努力帮助他们消除</tspan><tspan x="0" dy="15.4">或减轻种种心理担忧，让他们认识到自己的位</tspan><tspan x="0" dy="15.4">置和学习方向。</tspan></text></g>
<g id="f5"><text class="t" x="1800" y="4778.8">五、积极开展好文体活动。</text></g>
<g id="f5c"><text class="t" transform="translate(1978 4670.5)">二年级的学生还是比较活泼好动的年纪，在每<tspan x="0" dy="15.4">周活动课的时候，会让他们进行一些活动：抢</tspan><tspan x="0" dy="15.4">凳子游戏、传果子游戏、狼来了游戏等，并且</tspan><tspan x="0" dy="15.4">进行适当的体育活动，不仅有利于学生身体素</tspan><tspan x="0" dy="15.4">质的提高，而且也有利于学习效率的.提高，</tspan><tspan x="0" dy="15.4">每次活动我都在现场与学生一起活动并适当给</tspan><tspan x="0" dy="15.4">予以指导，这样不仅可以防止意外事故的发生</tspan><tspan x="0" dy="15.4">，而且也可以加深与学生感情的交流。</tspan></text></g>
<g id="f6"><text class="t" transform="translate(1800 4907.7)">六、由于二年级只有数学和语文两科，我积极<tspan x="0" dy="15.4">主动地和数学老师联系，协调学校各方面的教</tspan><tspan x="0" dy="15.4">育力量，发挥好纽带作用。</tspan></text></g>
<g id="f6c"><text class="t" transform="translate(2073 4830.3)">在与任课教师的交往中，我尊重他的地位，尊<tspan x="0" dy="15.4">重他的意见，把他视为自己的良伴、知己。凡</tspan><tspan x="0" dy="15.4">事都主动地同任课教师协商，倾听、采纳他们</tspan><tspan x="0" dy="15.4">的意见。能够慎重地处理学生和任课教师的关</tspan><tspan x="0" dy="15.4">系，在处理师生矛盾时，尽量避免了激化矛盾</tspan><tspan x="0" dy="15.4">，在这方面，我平时注意到多教育学生，让学</tspan><tspan x="0" dy="15.4">生懂礼貌，尊重老师的劳动，树立老师的威信</tspan><tspan x="0" dy="15.4">，增进师生情谊。</tspan></text></g>
<g id="f7"><text class="t" x="1800" y="5147.4">七、以后努力的方向</text></g>
<g id="f7c1"><text class="t" transform="translate(1942 4991.2)">1、在现有基础上根据学生的年龄特点及身心<tspan x="0" dy="15.4">发展规律适时调整管理策略。</tspan></text></g>
<g id="f7c2"><text class="t" transform="translate(1942 5059.6)">2、继续培养后进生的同时与优生结对子，加<tspan x="0" dy="15.4">大力度互助互学，缩短差距。</tspan></text></g>
<g id="f7c3"><text class="t" transform="translate(1942 5128)">3、适度放手，信任学生，培养学生自我管理<tspan x="0" dy="15.4">、自我教育能力。</tspan></text></g>
<g id="f7c4"><text class="t" transform="translate(1942 5257.5)">4、改进教学方式，创设宽松、和谐的学习氛<tspan x="0" dy="15.4">围，持续激发学生的学习兴趣及学习动力，朝</tspan><tspan x="0" dy="15.4">着更高目标前进。</tspan></text></g>
<g id="f7c4c"><text class="t" transform="translate(2216 5196.4)">总之，在这一个学期里，我通过以上几方面的<tspan x="0" dy="15.4">努力，班级工作较以前有了较大起色，学生的</tspan><tspan x="0" dy="15.4">整体素质在不断的提高。成绩只能说明过去，</tspan><tspan x="0" dy="15.4">教无止境、学无止境，在新的一学期里，我将</tspan><tspan x="0" dy="15.4">不断地探索教育管理的方法，及时总结经验教</tspan><tspan x="0" dy="15.4">训，虚心向老班主任、老教师学习，以便将自</tspan><tspan x="0" dy="15.4">己的管理水平推向更高的层次。</tspan></text></g>
<g id="s0c"><text class="t" transform="translate(520.5 1873)">杨宗伟时光匆匆，一学期的时间很快就过去了<tspan x="0" dy="15.4">。我们六年级组在学校领导的关心、支持下，</tspan><tspan x="0" dy="15.4">我们全体老师共同努力，克服地震带来的重重</tspan><tspan x="0" dy="15.4">困难圆满完成了学校安排的各项任务。现将本</tspan><tspan x="0" dy="15.4">期工作情况总结如下：</tspan></text></g>
<g id="s1"><text class="t e" x="487" y="1555.2">一、加强教师队伍建设方面。</text></g>
<g id="s1c1"><text class="t" transform="translate(57.5 1191.9)">1、组织政治理论学习，深刻领会上级精神，<tspan x="0" dy="15.4">统一认识，端正教育方向，真正落实教育教学</tspan><tspan x="0" dy="15.4">改革的精神。在六年级教育教学任务繁重的情</tspan><tspan x="0" dy="15.4">况下，本年级组的教师积极参与学校的政治学</tspan><tspan x="0" dy="15.4">习。</tspan></text></g>
<g id="s1c2"><text class="t" transform="translate(57.5 1306.2)">2、协助教务处、德育室对日常工作的检查。<tspan x="0" dy="15.4">努力培养学生的创新能力和实践能力。积极开</tspan><tspan x="0" dy="15.4">拓学生视野为各学科竞赛做准备。积极参加教</tspan><tspan x="0" dy="15.4">研活动，更好的领会教学精神。积极参加六年</tspan><tspan x="0" dy="15.4">级教师工作月会，就存在的教育教学问题进行</tspan><tspan x="0" dy="15.4">讨论、探究，及时查漏补缺，规范教育教学行</tspan><tspan x="0" dy="15.4">为。</tspan></text></g>
<g id="s1c3"><text class="t" transform="translate(57.5 1451.4)">4、落实素质教育，减轻学生课业负担，合理<tspan x="0" dy="15.4">安排使用课本、练习检测、家庭作业等。</tspan></text></g>
<g id="s1c4"><text class="t" transform="translate(57.5 1519.5)">5、教师之间互相协调，主动配合，宽以待人<tspan x="0" dy="15.4">，顾全大局，共计代课200多节。班主任积极</tspan><tspan x="0" dy="15.4">配合科任教师的教学工作，为任课教师提供教</tspan><tspan x="0" dy="15.4">学保障。任课教师认真组织教学，努力提高教</tspan><tspan x="0" dy="15.4">育教学水平，以适应不断发展和变化的教育教</tspan><tspan x="0" dy="15.4">学形式，加强对学生的教育和管理，有问题尽</tspan><tspan x="0" dy="15.4">量独力解决或及时与班主任联系，对待问题，</tspan><tspan x="0" dy="15.4">尽力确定合理有效的方法。</tspan></text></g>
<g id="s1c5"><text class="t" transform="translate(57.5 1680.1)">6、定期召开班主任会，及时了解学生状况，<tspan x="0" dy="15.4">交流探讨有规律性的问题，相互交流经验，提</tspan><tspan x="0" dy="15.4">高班级管理质量，使年级6个班共同进步。本</tspan><tspan x="0" dy="15.4">期共召开了三次六年级班主任会议，召开一次</tspan><tspan x="0" dy="15.4">全年级的家长座谈会。</tspan></text></g>
<g id="s1c6"><text class="t" transform="translate(57.5 1794.5)">7、配合教务处搞好期中、期末两次大规模检<tspan x="0" dy="15.4">测，及时召开分析会，利用各种数据全面分析</tspan><tspan x="0" dy="15.4">，肯定成绩指出不足。语文、数学学科在每次</tspan><tspan x="0" dy="15.4">检测后都进行具体的成绩分析，并制定出具体</tspan><tspan x="0" dy="15.4">的补救措施，有力地保证教学成效的稳定。</tspan></text></g>
<g id="s2"><text class="t e" x="487" y="2314.3">二、班级管理方面</text></g>
<g id="s2c1"><text class="t" transform="translate(117 1908.8)">1、坚持德育为首，强化德育管理，提高德育<tspan x="0" dy="15.4">工作的实效性，德育工作将紧紧围绕学校德育</tspan><tspan x="0" dy="15.4">处的工作计划，关注年级学生的年龄特点以及</tspan><tspan x="0" dy="15.4">心理特征，扎实开展各类切合学生实际的活动</tspan><tspan x="0" dy="15.4">。</tspan></text></g>
<g id="s2c2"><text class="t" transform="translate(117 2023.2)">2、结合年级学生特点，班主任及任课教师继<tspan x="0" dy="15.4">续加强对学生日常行为规范养成教育，班完分</tspan><tspan x="0" dy="15.4">利用每周夕会组织学生逐条学习《中小学生守</tspan><tspan x="0" dy="15.4">则》、《小学生日常行为规范》、《学生在校</tspan><tspan x="0" dy="15.4">一日常规》，《小学生行为规范七字歌》，《</tspan><tspan x="0" dy="15.4">六年级操行评分细则》并把规章制度的学习贯</tspan><tspan x="0" dy="15.4">穿到学生的日常文明行为习惯的教育之中。加</tspan><tspan x="0" dy="15.4">大对纪律差生的教育，对学困生、特殊儿童的</tspan><tspan x="0" dy="15.4">帮助。</tspan></text></g>
<g id="s2c3"><text class="t" transform="translate(117 2197.2)">3、以五项流动红旗评比为载体，带动年级的<tspan x="0" dy="15.4">班级常规管理。六年级是小学阶段最后一年，</tspan><tspan x="0" dy="15.4">知识的综合性比较强，根据以往的教育教学经</tspan><tspan x="0" dy="15.4">验，基础较差的学生，容易对学习产生厌倦心</tspan><tspan x="0" dy="15.4">理，很容易出现新的学困生。本期初，年级就</tspan><tspan x="0" dy="15.4">根据各班的实际情况制定了本班的活动计划，</tspan><tspan x="0" dy="15.4">组织学生学习《小学生行为规范》《小学生守</tspan><tspan x="0" dy="15.4">则》及学校的规章制度、文明礼仪规范，要求</tspan><tspan x="0" dy="15.4">学生在日常生活中讲文明，懂礼仪；各班还制</tspan><tspan x="0" dy="15.4">定了班规，并进行评比检查，把活动落到实处</tspan><tspan x="0" dy="15.4">。各班主任还注重对学生进行养成教育，培养</tspan><tspan x="0" dy="15.4">学生良好的学习习惯和行为习惯，从卫生、学</tspan><tspan x="0" dy="15.4">习、上课等多方面进行督促检查，让学生在老</tspan><tspan x="0" dy="15.4">师的温暖的话语中把这些记在心里，落实在行</tspan><tspan x="0" dy="15.4">动上。在班级日常教学管理中，各班主任还重</tspan><tspan x="0" dy="15.4">视与各学科任课老师的沟通，及时了解学生在</tspan><tspan x="0" dy="15.4">课堂上的表现，把学生在课堂上出现的不遵守</tspan><tspan x="0" dy="15.4">纪律的问题及时处理，确保班级各项教育教学</tspan><tspan x="0" dy="15.4">活动的开展。</tspan></text></g>
<g id="s2c4"><text class="t" transform="translate(117 2529)">4、以文明礼仪教育、环保教育、禁毒教育活<tspan x="0" dy="15.4">动为本期的德育突破点，让学生认识环保的重</tspan><tspan x="0" dy="15.4">要性，_的危害性，礼仪的必要性。</tspan></text></g>
<g id="s2c5"><text class="t" transform="translate(117 2612.5)">5、加强对班主任工作的总结，注重提示班主<tspan x="0" dy="15.4">任抓好关键环节的工作：如开学初、每次检测</tspan><tspan x="0" dy="15.4">或较大考试后等，尽心尽力，耐心周到地做好</tspan><tspan x="0" dy="15.4">学生工作，建立良好的班集体。</tspan></text></g>
<g id="q0c"><text class="t" transform="translate(520.5 3013)">本学期即将结束，在安全方面我，开学初本着<tspan x="0" dy="15.4">以人为本，安全第一的意识教育，首先带领班</tspan><tspan x="0" dy="15.4">级同学认真学习了我校的校内外安全十不准，</tspan><tspan x="0" dy="15.4">让学生在安全方面的做法有个规则，同时利用</tspan><tspan x="0" dy="15.4">班会、晨会加强一系列安全教育，提高同学的</tspan><tspan x="0" dy="15.4">安全意识，具体做了如下几方面的工作：</tspan></text></g>
<g id="q1"><text class="t e" x="487" y="2773.1">一、交通安全教育</text></g>
<g id="q1c"><text class="t" transform="translate(117 2711.4)">教育学生遵守交通规则，红灯停，绿灯行，过<tspan x="0" dy="15.4">马路时应走人行横道线，放学上学回家途中排</tspan><tspan x="0" dy="15.4">好队，要靠边行，行人应走在人行道上，讲解</tspan><tspan x="0" dy="15.4">一些交通安全知识，使学生更好的遵守交通法</tspan><tspan x="0" dy="15.4">规，做一个文明的少先队员。</tspan></text></g>
<g id="q2"><text class="t e" x="487" y="2872">二、乘车安全教育</text></g>
<g id="q2c"><text class="t" transform="translate(117 2825.7)">教育学生不做四无车辆，不搭乘不认识的人的<tspan x="0" dy="15.4">车辆，乘车时身体的任何部位绝不伸出车外，</tspan><tspan x="0" dy="15.4">在车内不说话，不和同学打闹、游戏，做文明</tspan><tspan x="0" dy="15.4">乘客。</tspan></text></g>
<g id="q3"><text class="t e" x="487" y="2970.9">三、上下楼梯安全教育</text></g>
<g id="q3c"><text class="t" transform="translate(93 2924.6)">教育学生上下楼梯靠右行，不拥挤、不打闹，<tspan x="0" dy="15.4">不在楼梯口玩耍，不在楼道、或楼梯上游戏，</tspan><tspan x="0" dy="15.4">关心爱护小同学、礼让小同学先行，并举行了</tspan><tspan x="0" dy="15.4">多次安全演练。</tspan></text></g>
<g id="q4"><text class="t e" x="487" y="3189.1">四、防滑冰落水安全教育</text></g>
<g id="q4c1"><text class="t" transform="translate(81 3022.8)">（1）、强化安全教育。将防溺水教育作为重<tspan x="0" dy="15.4">要的安全教育内容，并针对各种可能发生的情</tspan><tspan x="0" dy="15.4">况，广播、宣传栏、黑板报、班会课等多种渠</tspan><tspan x="0" dy="15.4">道，对学生进行防溺水安全教育，提高学生防</tspan><tspan x="0" dy="15.4">溺水的警惕性、自觉性和识别险情、紧急避险</tspan><tspan x="0" dy="15.4">、遇险逃生的能力；加强对家长的宣传教育，</tspan><tspan x="0" dy="15.4">发放《安全承诺书》，提醒节假日和放学时间</tspan><tspan x="0" dy="15.4">防学生滑冰溺水安全注意事项，使家长切实负</tspan><tspan x="0" dy="15.4">起监护人的责任。</tspan></text></g>
<g id="q4c2"><text class="t" transform="translate(81 3198.9)">（2）、加强学生自我管理。教育学生在课余<tspan x="0" dy="15.4">休息时间不擅自滑冰，充分发挥学生干部的作</tspan><tspan x="0" dy="15.4">用，指导学生开展自我管理。</tspan></text></g>
<g id="q5"><text class="t e" x="487" y="3405.4">五、食品卫生安全教育</text></g>
<g id="q5c"><text class="t" transform="translate(93 3283.1)">教育学生养成良好的健康行为，平时多喝开水<tspan x="0" dy="15.4">，不喝生水，少喝冰水，多吃新鲜蔬菜和水果</tspan><tspan x="0" dy="15.4">，不吃发馊、变质的食物，把住"病从口入"关</tspan><tspan x="0" dy="15.4">。教育学生注意个人卫生，经常用肥皂和流动</tspan><tspan x="0" dy="15.4">水洗手，特别在打喷嚏、咳嗽和清洁鼻子后要</tspan><tspan x="0" dy="15.4">洗手。不要共用茶具、餐具，不要随便去小摊</tspan><tspan x="0" dy="15.4">店买一些不干净的零食，不吃太多的冷食，时</tspan><tspan x="0" dy="15.4">刻注意饮食卫生。保持身体健康，安安全全过</tspan><tspan x="0" dy="15.4">好每一天。</tspan></text></g>
<g id="h1c1"><text class="t" transform="translate(520 3458.9)">《小学语文教师》上说"宁静以致远，六年级<tspan x="0" dy="15.4">的学生心浮气躁，能够静下心来学习的孩子就</tspan><tspan x="0" dy="15.4">一定会是一个优秀的孩子。"</tspan></text></g>
<g id="h1c2"><text class="t" transform="translate(520 3542.6)">《班主任之友》说"没有竞争机制，集体便没<tspan x="0" dy="15.4">有活力，个人便没有危机感，更没有创造的火</tspan><tspan x="0" dy="15.4">花闪耀。要打破这种相对平衡的状态，创造出</tspan><tspan x="0" dy="15.4">一种充满活力的竞争局面，就必须鼓励竞争，</tspan><tspan x="0" dy="15.4">用竞争激发学生高昂的斗志，发掘学生巨大的</tspan><tspan x="0" dy="15.4">潜能。"</tspan></text></g>
<g id="h1c3"><text class="t" transform="translate(520 3672.5)">面对有影响力的教育期刊的言论，沉思教育专<tspan x="0" dy="15.4">家的经典理论。我在思考：我是让我的学生们</tspan><tspan x="0" dy="15.4">静下心来学习——两耳不闻窗外事呢?还是应</tspan><tspan x="0" dy="15.4">该培养他们充满活力地去竞争呢?在我踌躇不</tspan><tspan x="0" dy="15.4">前的时候，我的内心有一个声音在说——纸</tspan><tspan x="0" dy="15.4">上得来终觉浅，绝知此事要躬行。</tspan></text></g>
<g id="h1"><text class="t e" x="760" y="4001.8">一、班级的现状</text></g>
<g id="h1d1"><text class="t" transform="translate(402 3802.5)">(1)到了六年级，无论是知识的广度与知识的<tspan x="0" dy="15.4">深度都有了一定程度的提升，他们明显的感觉</tspan><tspan x="0" dy="15.4">到了压力，除了这个压力，还有来自家长们给</tspan><tspan x="0" dy="15.4">他们的升学的压力，很明显的是，我带的这个</tspan><tspan x="0" dy="15.4">班级女生们非常懂事，都能够应对这样的压力</tspan><tspan x="0" dy="15.4">，并且积极地投入到战胜压力的战斗中去，但</tspan><tspan x="0" dy="15.4">更多的男生却显出颓废、胆怯和消极。</tspan></text></g>
<g id="h1d2"><text class="t" transform="translate(402 3946.7)">(2)到了六年级，同学们之间的关系也出现了<tspan x="0" dy="15.4">微妙的变化。男女生之间更加的"陌生"与"羞</tspan><tspan x="0" dy="15.4">涩"，有的女生将男生是做空气，特别是能力</tspan><tspan x="0" dy="15.4">差，学习差的双差生，几乎在班级不受待见，</tspan><tspan x="0" dy="15.4">班干部与同学之间也是"水火不相容"。</tspan></text></g>
<g id="h1d3"><text class="t" transform="translate(402 4061.5)">(3)到了六年级，学生们和老师之间的关系变<tspan x="0" dy="15.4">成了"剑拔弩张"的感觉。每天进入教室，便感</tspan><tspan x="0" dy="15.4">觉到沉重的压力，老师、学生都愁眉深锁，似</tspan><tspan x="0" dy="15.4">乎不堪重负。这种氛围非常让人焦虑与压抑。</tspan></text></g>
<g id="h2"><text class="t e" x="760" y="4344.5">二、我的举措</text></g>
<g id="h2c"><text class="t" transform="translate(415 4328.6)">(1)为了争取一面"流动红旗"，男女生分工合<tspan x="0" dy="15.4">作</tspan></text></g>
<g id="h2d1"><text class="t" transform="translate(141 4161.2)">孩子们都是家里的小公主和小王子，过着衣来<tspan x="0" dy="15.4">伸手饭来张口的神仙日子，可是来到学校后，</tspan><tspan x="0" dy="15.4">虽然没有很多沉重体力劳动需要他们承担，但</tspan><tspan x="0" dy="15.4">是每一天的两小扫，一大扫，还是不可以避免</tspan><tspan x="0" dy="15.4">的。</tspan></text></g>
<g id="h2d2"><text class="t" transform="translate(141 4275.2)">看着他们扫地腰弯不下去，拖地拖布拿不起来<tspan x="0" dy="15.4">，撮灰尘的撮箕跟着扫把满教室跑，抹桌子的</tspan><tspan x="0" dy="15.4">抹布被几根手指头捏着左右晃来晃去……我的</tspan><tspan x="0" dy="15.4">心都是痛的。有时候，实在没有办法，我干脆</tspan><tspan x="0" dy="15.4">一个人包产到户，自己一个人干完了算了。</tspan></text></g>
<g id="h2d3"><text class="t" transform="translate(141 4389.2)">在这样的状态下完成的清洁任务，可想而知，<tspan x="0" dy="15.4">流动红旗，可真所谓的"天方夜谭"。反思班级</tspan><tspan x="0" dy="15.4">的情况的时候，男生说女生"懒得要死"，女生</tspan><tspan x="0" dy="15.4">说男生"懒得抽筋"。谁都不承认自己的职责。</tspan><tspan x="0" dy="15.4">再就是周一的说周五的同学没有做干净，周四</tspan><tspan x="0" dy="15.4">的同学说周三的同学没有认真做……</tspan></text></g>
</g>
</svg>
